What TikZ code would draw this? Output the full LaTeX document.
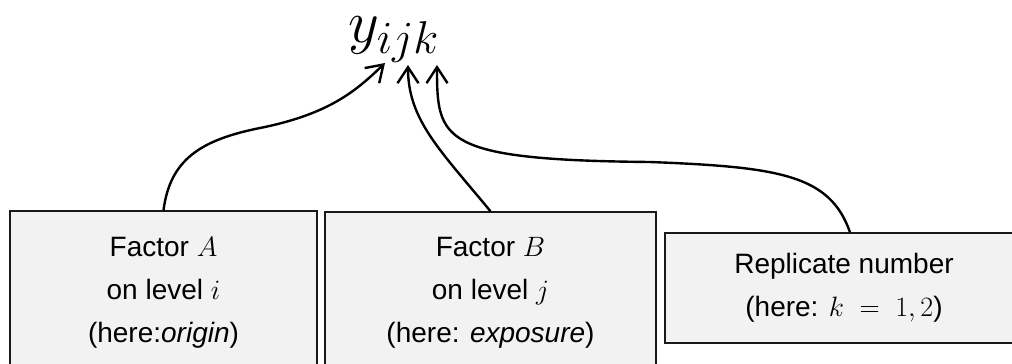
\RequirePackage{fix-cm}
\documentclass[tikz,border=0pt]{standalone}
\usepackage{fontspec}
\setmainfont{Liberation Sans}
\usetikzlibrary{arrows.meta}
\DeclareMathSizes{60}{60}{46}{36}
\definecolor{boxfill}{HTML}{F2F2F2}
\begin{document}
\begin{tikzpicture}[x=1pt,y=-1pt,
  factorbox/.style={draw=black!90, line width=1.4pt, fill=boxfill,
    align=center, inner sep=0pt,
    font=\fontsize{28}{43}\selectfont},
  link/.style={line width=2.4pt, black,
    -{Straight Barb[length=16pt,width=21pt]}}]
\useasboundingbox (0,0) rectangle (1012,364);

% response variable
\node[anchor=base west, inner sep=0pt, font=\fontsize{60}{60}\selectfont]
  (y) at (348,42) {$y_{ijk}$};
\coordinate (ti) at (385,63);
\coordinate (tj) at (408,65);
\coordinate (tk) at (437,65);

% factor boxes
\node[factorbox, minimum width=307pt, minimum height=164pt] (A) at (163.5,293)
  {Factor $A$\\ on level $i$\\ (here:\textit{origin})};
\node[factorbox, minimum width=331pt, minimum height=162pt] (B) at (490.5,293)
  {Factor $B$\\ on level $j$\\ (here: \textit{exposure})};
\node[factorbox, minimum width=358pt, minimum height=110pt] (C) at (844,288)
  {Replicate number\\ (here: $k\;=\;1,2$)};

% connectors
\draw[link] (A.north) .. controls (170,160) and (200,140) .. (260,128)
  .. controls (330,114) and (357,90) .. (ti);
\draw[link] (B.north) .. controls (440,150) and (408,120) .. (tj);
\draw[link] ([xshift=6pt]C.north) .. controls (830,175) and (780,167) .. (650,162)
  .. controls (440,160) and (437,140) .. (tk);
\end{tikzpicture}
\end{document}
